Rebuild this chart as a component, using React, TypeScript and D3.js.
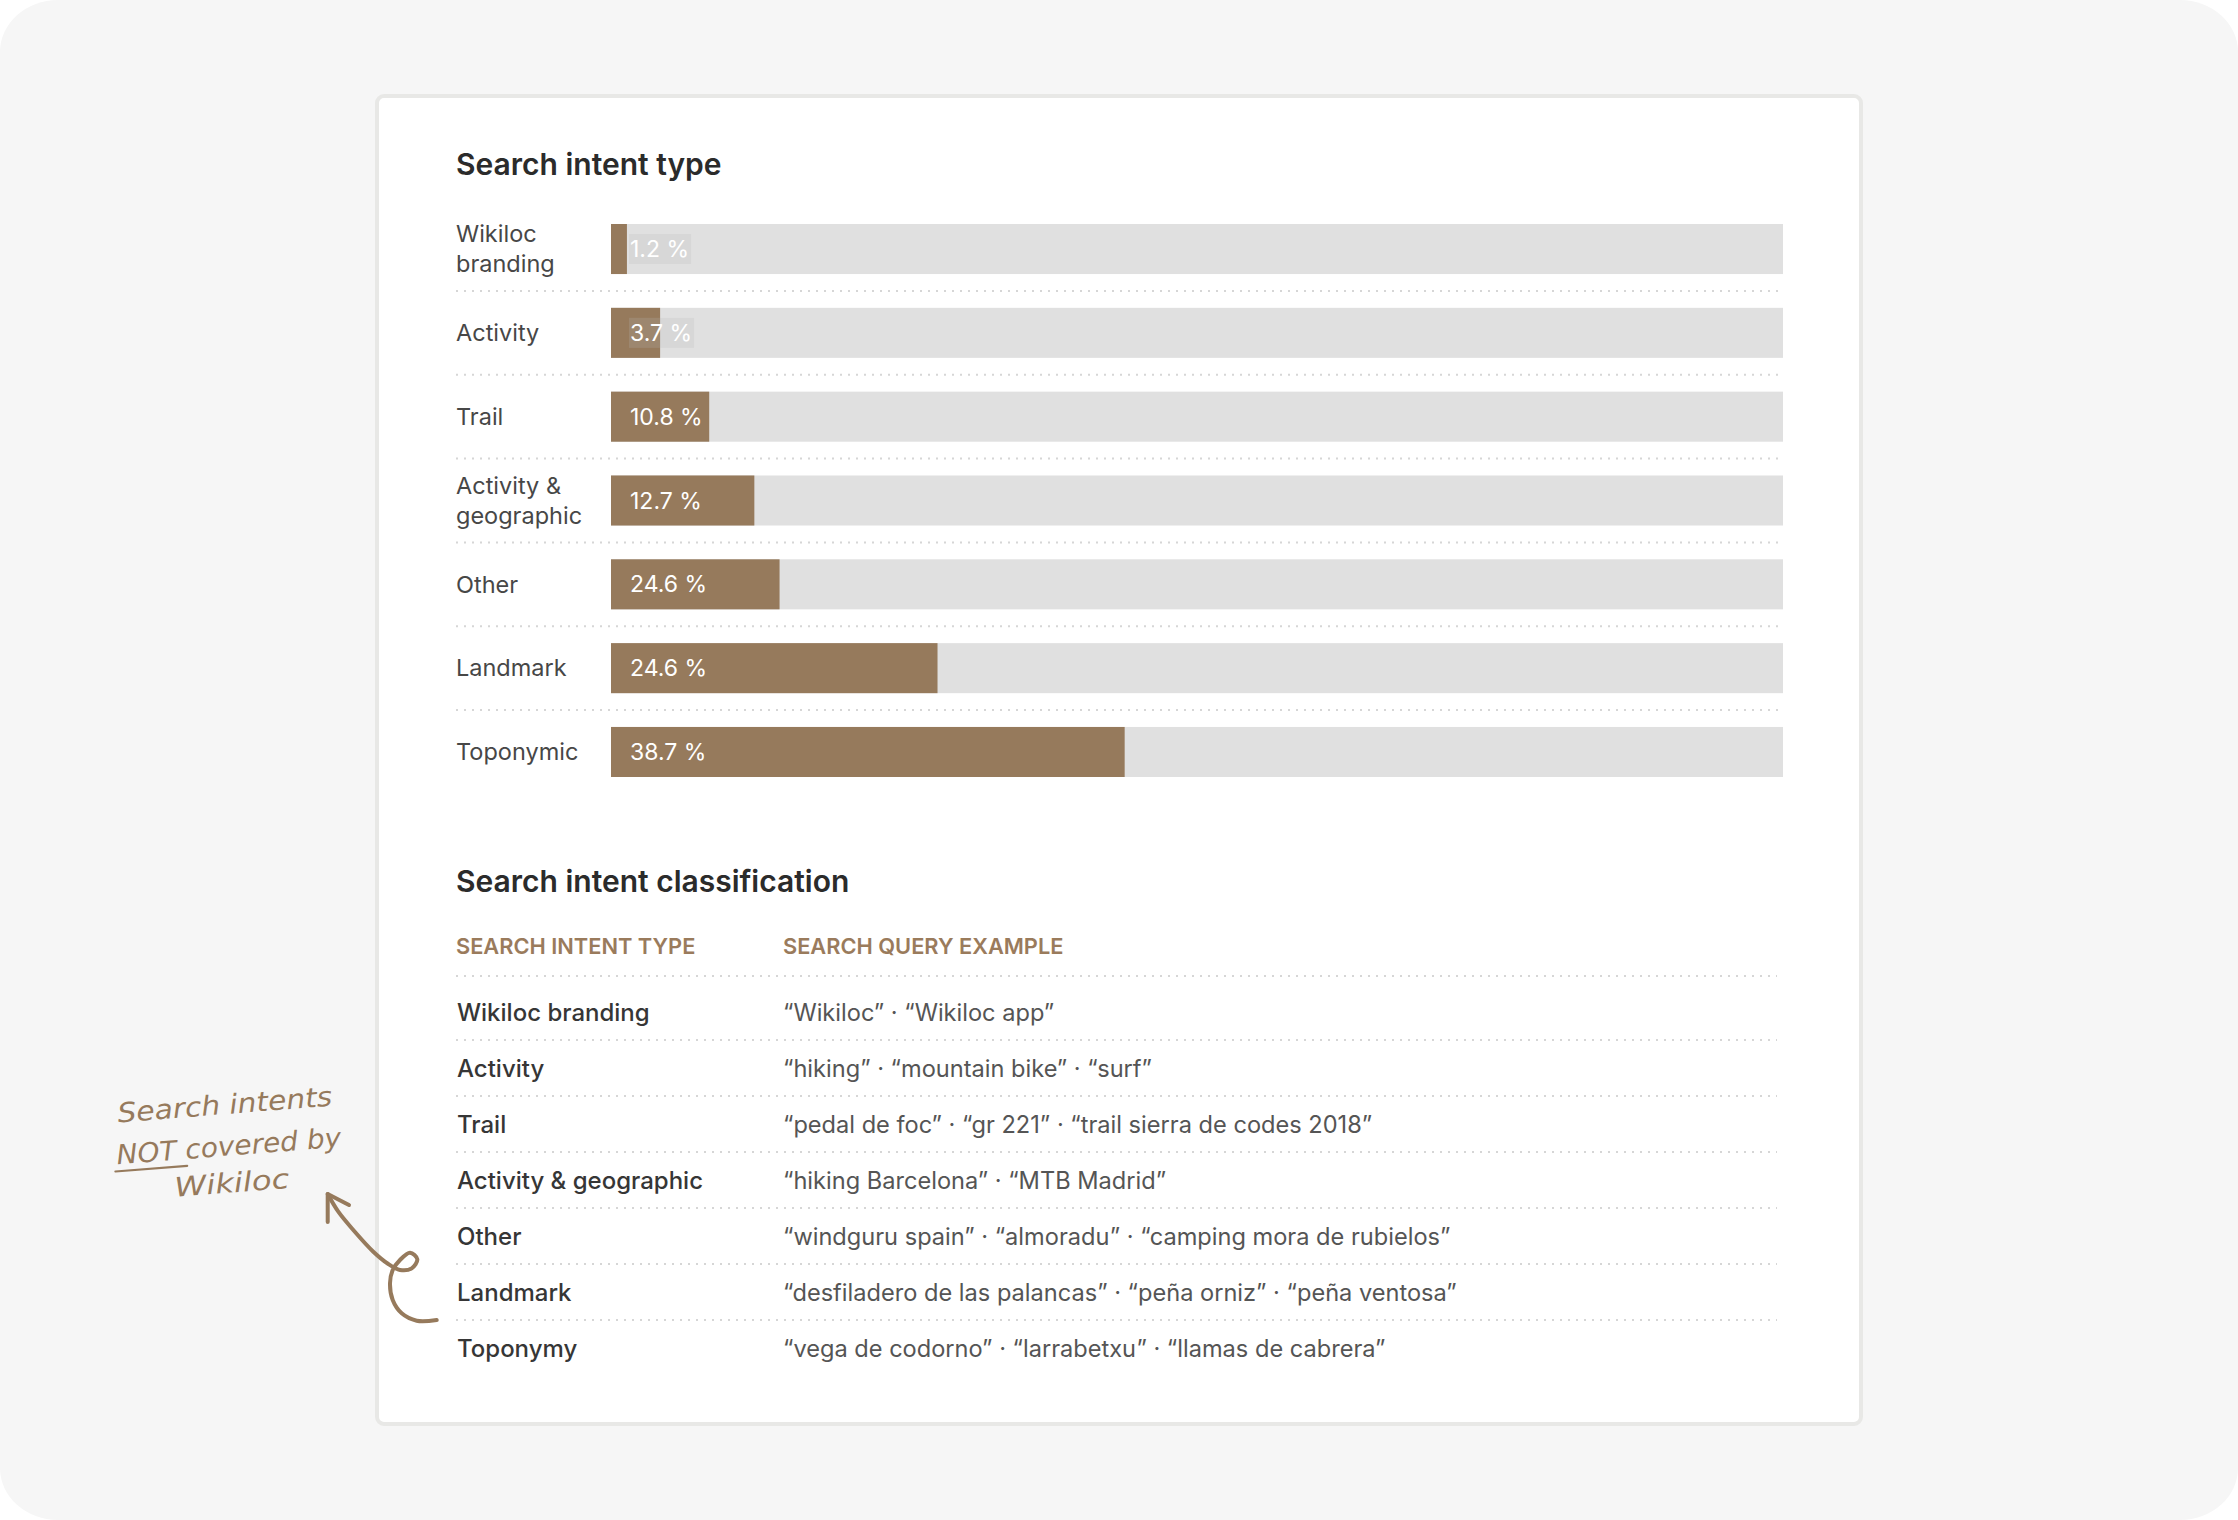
import React, { useMemo } from "react";
import * as d3 from "d3";

// ---------- data ----------
const categoryLines: string[][] = [
  ["Wikiloc", "branding"],
  ["Activity"],
  ["Trail"],
  ["Activity &", "geographic"],
  ["Other"],
  ["Landmark"],
  ["Toponymic"],
];
const categories = categoryLines.map((l) => l.join(" "));
const barValues = [1.2, 3.7, 7.4, 10.8, 12.7, 24.6, 38.7];
const barLabels = ["1.2 %", "3.7 %", "10.8 %", "12.7 %", "24.6 %", "24.6 %", "38.7 %"];
const scaleMax = 88.3;

const tableHeaders = ["SEARCH INTENT TYPE", "SEARCH QUERY EXAMPLE"];
const intentTypes = [
  "Wikiloc branding",
  "Activity",
  "Trail",
  "Activity & geographic",
  "Other",
  "Landmark",
  "Toponymy",
];
const queryExamples = [
  "“Wikiloc” · “Wikiloc app”",
  "“hiking” · “mountain bike” · “surf”",
  "“pedal de foc” · “gr 221” · “trail sierra de codes 2018”",
  "“hiking Barcelona” · “MTB Madrid”",
  "“windguru spain” · “almoradu” · “camping mora de rubielos”",
  "“desfiladero de las palancas” · “peña orniz” · “peña ventosa”",
  "“vega de codorno” · “larrabetxu” · “llamas de cabrera”",
];

const titles = ["Search intent type", "Search intent classification"];
const noteLines = ["Search intents", "NOT covered by", "Wikiloc"];
const arrowPoints: [number, number][] = [
  [436.7, 1320], [416.7, 1320.7], [401.7, 1313.3], [392.7, 1300], [390, 1283.3],
  [392.7, 1270], [400, 1260], [410, 1252.7], [417.3, 1259.3], [411.7, 1268.3],
  [400, 1270], [388.3, 1264], [373.3, 1251.7], [353.3, 1230], [338.3, 1211.7], [327.7, 1194],
];
const arrowHead: [number, number][] = [[327.7, 1222], [327.7, 1194], [349, 1205]];

// ---------- styles ----------
const W = 2238;
const H = 1520;
const BROWN = "#967a5c";
const TRACK = "#e0e0e0";
const FONT = "Inter, 'Noto Sans', sans-serif";

export default function App() {
  const x = d3.scaleLinear().domain([0, scaleMax]).range([611, 1783]);
  const y = d3
    .scaleBand<string>()
    .domain(categories)
    .range([224, 777])
    .paddingInner(0.403)
    .paddingOuter(0);
  const bw = y.bandwidth();
  const step = y.step();

  const rowY = d3
    .scaleBand<string>()
    .domain(intentTypes)
    .range([984, 984 + 56 * intentTypes.length]);

  const measure = useMemo(() => {
    const c = document.createElement("canvas").getContext("2d")!;
    c.font = `400 23px Inter`;
    return (s: string) => c.measureText(s).width;
  }, []);

  const arrowLine = d3.line<[number, number]>().curve(d3.curveCatmullRom.alpha(0.5));
  const headLine = d3.line<[number, number]>();

  const labelX = x(0) + 19;

  return (
    <svg
      width={W}
      height={H}
      style={{ position: "absolute", left: 0, top: 0, display: "block" }}
      fontFamily={FONT}
    >
      <rect x={0} y={0} width={W} height={H} fill="#ffffff" />
      <rect x={0} y={0} width={W} height={H} rx={58} ry={52} fill="#f6f6f6" />
      <rect x={377} y={96} width={1484} height={1328} rx={7} fill="#ffffff" stroke="#e8e8e6" strokeWidth={4} />

      {/* Section 1 */}
      <text x={456} y={175} fontSize={30} fontWeight={600} fill="#2b2b2b">
        {titles[0]}
      </text>

      {categories.map((c, i) => {
        const top = y(c)!;
        const cy = top + bw / 2;
        const lines = categoryLines[i];
        const barEnd = x(barValues[i]);
        const tw = measure(barLabels[i]);
        const needsBox = labelX + tw > barEnd;
        return (
          <g key={c}>
            {lines.map((ln, j) => (
              <text
                key={j}
                x={456}
                y={cy + (j - (lines.length - 1) / 2) * 30}
                dy="0.35em"
                fontSize={23.5}
                fill="#474747"
              >
                {ln}
              </text>
            ))}
            <rect x={x(0)} y={top} width={x(scaleMax) - x(0)} height={bw} fill={TRACK} />
            <rect x={x(0)} y={top} width={barEnd - x(0)} height={bw} fill={BROWN} />
            {needsBox && (
              <rect x={labelX - 1} y={cy - 15} width={tw + 3} height={30} fill="#b8b8b8" opacity={0.22} />
            )}
            <text x={labelX} y={cy} dy="0.35em" fontSize={23} fontWeight={400} fill="#ffffff">
              {barLabels[i]}
            </text>
            {i < categories.length - 1 && (
              <line
                x1={456}
                x2={1783}
                y1={top + bw + (step - bw) / 2}
                y2={top + bw + (step - bw) / 2}
                stroke="#d6d6d6"
                strokeWidth={2}
                strokeDasharray="2 6"
              />
            )}
          </g>
        );
      })}

      {/* Section 2 */}
      <text x={456} y={892} fontSize={30} fontWeight={600} fill="#2b2b2b">
        {titles[1]}
      </text>
      <text x={456} y={954} fontSize={21.8} fontWeight={600} fill="#9a7b5c">
        {tableHeaders[0]}
      </text>
      <text x={783} y={954} fontSize={21.8} fontWeight={600} fill="#9a7b5c">
        {tableHeaders[1]}
      </text>
      <line x1={456} x2={1777} y1={976} y2={976} stroke="#d6d6d6" strokeWidth={2} strokeDasharray="2 6" />
      {intentTypes.map((t, i) => {
        const top = rowY(t)!;
        return (
          <g key={t}>
            <text x={457} y={top + 37} fontSize={24} fontWeight={500} fill="#363636">
              {t}
            </text>
            <text x={783} y={top + 37} fontSize={23.6} fill="#555555">
              {queryExamples[i]}
            </text>
            {i < intentTypes.length - 1 && (
              <line
                x1={456}
                x2={1777}
                y1={top + rowY.step()}
                y2={top + rowY.step()}
                stroke="#d6d6d6"
                strokeWidth={2}
                strokeDasharray="2 6"
              />
            )}
          </g>
        );
      })}

      {/* Annotation */}
      <g fill={BROWN} fontFamily="'DejaVu Sans', sans-serif" fontStyle="italic" fontSize={27}>
        <g transform="translate(225.5,1114) rotate(-4.5)">
          <text textAnchor="middle" textLength={215} lengthAdjust="spacingAndGlyphs">
            {noteLines[0]}
          </text>
        </g>
        <g transform="translate(229.5,1155.5) rotate(-4.5)">
          <text textAnchor="middle" textLength={225} lengthAdjust="spacingAndGlyphs">
            {noteLines[1]}
          </text>
          <line x1={-115} x2={-43} y1={7} y2={7} stroke={BROWN} strokeWidth={2.2} strokeLinecap="round" />
        </g>
        <g transform="translate(232.5,1192.3) rotate(-4.5)">
          <text textAnchor="middle" textLength={115} lengthAdjust="spacingAndGlyphs">
            {noteLines[2]}
          </text>
        </g>
      </g>
      <path d={arrowLine(arrowPoints)!} fill="none" stroke={BROWN} strokeWidth={4} strokeLinecap="round" strokeLinejoin="round" />
      <path d={headLine(arrowHead)!} fill="none" stroke={BROWN} strokeWidth={4} strokeLinecap="round" strokeLinejoin="round" />
    </svg>
  );
}
